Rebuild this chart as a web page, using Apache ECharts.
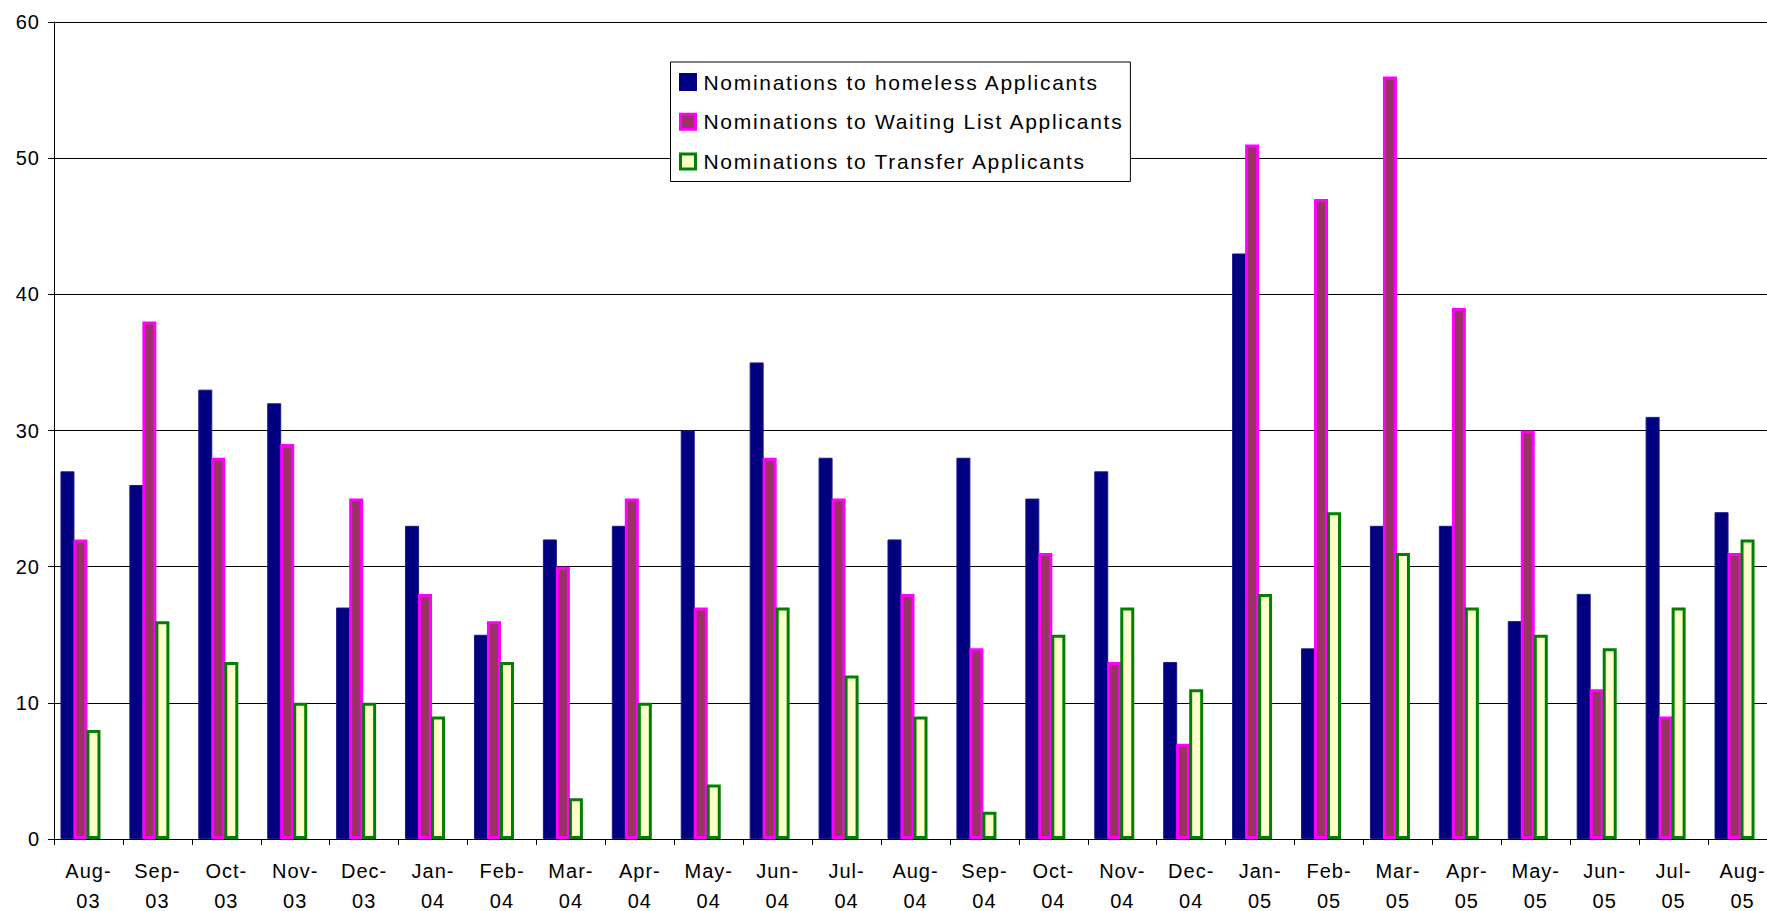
<!DOCTYPE html>
<html><head><meta charset="utf-8">
<script src="https://cdn.jsdelivr.net/npm/echarts@6/dist/echarts.min.js"></script>
<style>html,body{margin:0;padding:0;background:#fff}#c{width:1767px;height:911px}</style>
</head><body><div id="c"></div>
<script>
const categories = ['Aug-03','Sep-03','Oct-03','Nov-03','Dec-03','Jan-04','Feb-04','Mar-04','Apr-04','May-04','Jun-04','Jul-04','Aug-04','Sep-04','Oct-04','Nov-04','Dec-04','Jan-05','Feb-05','Mar-05','Apr-05','May-05','Jun-05','Jul-05','Aug-05'];
const seriesNames = ['Nominations to homeless Applicants','Nominations to Waiting List Applicants','Nominations to Transfer Applicants'];
const homeless = [27,26,33,32,17,23,15,22,23,30,35,28,22,28,25,27,13,43,14,23,23,16,18,31,24];
const waiting  = [22,38,28,29,25,18,16,20,25,17,28,25,18,14,21,13,7,51,47,56,39,30,11,9,21];
const transfer = [8,16,13,10,10,9,13,3,10,4,17,12,9,2,15,17,11,18,24,21,17,15,14,17,22];
const yMin = 0, yMax = 60, yStep = 10;

const FONT = '"Liberation Sans", Arial, sans-serif';
const styles = [
  {color:'#000080', borderColor:'#1a1a8a', borderWidth:1},
  {color:'#993366', borderColor:'#FF00FF', borderWidth:3},
  {color:'#FFFFCC', borderColor:'#008000', borderWidth:3}
];
const legendStyles = [
  {color:'#000080', borderColor:'#000080', borderWidth:3},
  {color:'#993366', borderColor:'#FF00FF', borderWidth:3},
  {color:'#FFFFCC', borderColor:'#008000', borderWidth:3}
];
const values = [homeless, waiting, transfer];

const chart = echarts.init(document.getElementById('c'), null, {renderer:'svg'});
chart.setOption({
  animation:false,
  backgroundColor:'#fff',
  textStyle:{fontFamily:FONT},
  grid:[
    {left:54, right:-10, top:22, bottom:72, containLabel:false, outerBoundsMode:'none'},
    {left:46, right:-2, top:22, bottom:72, containLabel:false, outerBoundsMode:'none'}
  ],
  legend:{
    left:670.5, top:62, orient:'vertical',
    backgroundColor:'#fff', borderColor:'#000', borderWidth:1,
    padding:[9.5, 70.5, 9.5, 8.5],
    itemWidth:15, itemHeight:15, itemGap:18.75,
    icon:'rect',
    textStyle:{fontFamily:FONT, fontSize:21, color:'#000', lineHeight:21, padding:[0,0,0,3]},
    data: seriesNames.map((n,i)=>({name:n, icon:'rect', itemStyle:legendStyles[i]}))
  },
  xAxis:[
    {type:'category', gridIndex:0, data:categories,
     axisLine:{lineStyle:{color:'#000', width:1}},
     axisTick:{show:true, length:6, lineStyle:{color:'#000'}},
     axisLabel:{interval:0, fontFamily:FONT, fontSize:20, color:'#000', lineHeight:30, margin:17,
       formatter:v=>v.replace('-', '-\n')},
     splitLine:{show:false}},
    {type:'category', gridIndex:1, data:categories, show:false}
  ],
  yAxis:[
    {type:'value', gridIndex:0, min:yMin, max:yMax, interval:yStep,
     axisLine:{show:true, lineStyle:{color:'#000', width:1}},
     axisTick:{show:true, length:6, lineStyle:{color:'#000'}},
     axisLabel:{fontFamily:FONT, fontSize:20, color:'#000', margin:14},
     splitLine:{show:true, lineStyle:{color:'#000', width:1}}},
    {type:'value', gridIndex:1, min:yMin, max:yMax, interval:yStep, show:false, splitLine:{show:false}}
  ],
  series: seriesNames.map((n,i)=>({
    name:n, type:'bar', xAxisIndex:1, yAxisIndex:1,
    data: values[i], barWidth:14, barGap:'-7.1%',
    itemStyle: styles[i],
    emphasis:{disabled:true}
  }))
});

function spacing(){
  document.querySelectorAll('#c svg text').forEach(t=>{
    if ((t.textContent||'').indexOf('Nominations')===0) t.style.letterSpacing='1.7px';
    else t.style.letterSpacing='1px';
  });
}
spacing();
chart.on('finished', spacing);
setTimeout(spacing, 50);
</script>
</body></html>
